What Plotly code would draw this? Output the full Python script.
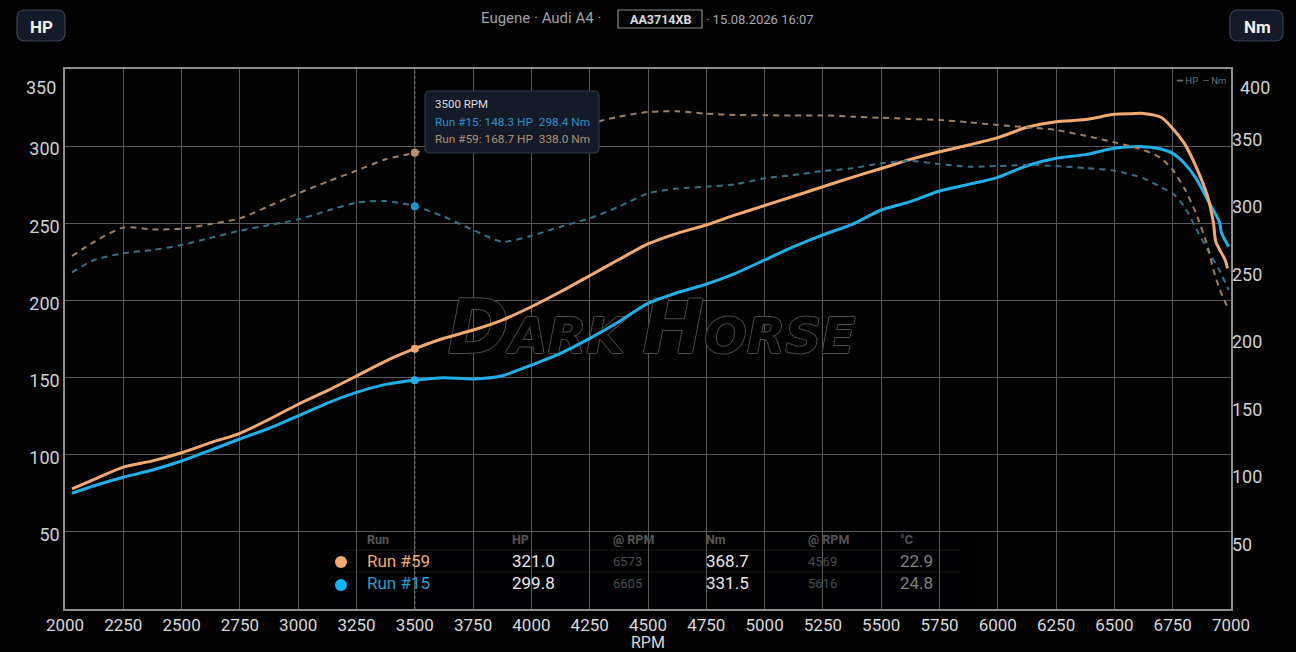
import plotly.graph_objects as go

# okunan degerler
RPM = [2030, 2125, 2250, 2375, 2500, 2625, 2750, 2875, 3000, 3125, 3250, 3375, 3500,
       3625, 3750, 3875, 4000, 4125, 4250, 4375, 4500, 4625, 4750, 4875, 5000, 5125,
       5250, 5375, 5500, 5625, 5750, 5875, 6000, 6125, 6250, 6375, 6500]

HP_59 = [77.8, 84, 92, 96, 101.3, 107.8, 113.9, 122.9, 132.7, 141.5, 151, 160.7, 168.7,
         175.5, 180.8, 187.3, 195.9, 205.6, 216, 226.5, 236.6, 243.5, 248.9, 255.4, 261.5, 267.5,
         273.7, 279.8, 285.5, 291.4, 296.4, 300.7, 305.5, 312.2, 315.8, 317.2, 320.6]
HP_15 = [75, 79.9, 85.4, 90.1, 95.9, 103, 110.2, 117.1, 125.1, 133.5, 140.4, 145.6, 148.3,
         149.9, 149.1, 151.2, 158.1, 165.7, 175.4, 186.2, 198.1, 205, 210.6, 217.6, 226.2, 234.8,
         242.5, 249.3, 258.6, 264, 270.9, 275.2, 279.8, 287.3, 292.1, 294.5, 298.6]
NM_59 = [261.5, 272, 282.5, 281.2, 281.7, 285.2, 289.4, 298.5, 307.9, 316.5, 324.7, 333.1, 338,
         344, 348, 351, 354, 357, 359.8, 364.7, 368.1, 368.7, 366.9, 366, 365.7, 365.6,
         365.6, 364.7, 363.9, 363, 362.2, 360.5, 358.5, 356.8, 354.8, 350.5, 345.7]
NM_15 = [249.4, 258.5, 263.5, 265.9, 269.6, 275, 280.2, 284.4, 288.6, 295, 301, 302.2, 298.4,
         290.6, 280.7, 272.1, 276.5, 283.2, 289.4, 298, 307.9, 311.4, 312.8, 314.6, 319, 321.5,
         324.4, 326.4, 330.1, 331.9, 329.6, 327.6, 328.1, 328.9, 328.1, 326.6, 324.7]

# egrilerin dustugu son bolum
TAIL_HP_59_RPM = [6573, 6625, 6700, 6750, 6800, 6850, 6900, 6925, 6935, 6975, 6985]
TAIL_HP_59 = [321, 321.2, 318.7, 311.5, 301.8, 286.7, 267.2, 250, 238, 226.2, 220.8]
TAIL_HP_15_RPM = [6605, 6700, 6750, 6800, 6850, 6900, 6950, 6960, 6990]
TAIL_HP_15 = [299.8, 298.1, 295.3, 288.9, 279.1, 265.1, 251, 243.5, 234.8]
TAIL_NM_59_RPM = [6625, 6700, 6750, 6800, 6850, 6900, 6925, 6950, 6985]
TAIL_NM_59 = [340, 333.9, 325.2, 311.6, 293.1, 268.4, 251.1, 237.6, 223.5]
TAIL_NM_15_RPM = [6625, 6700, 6750, 6800, 6850, 6900, 6950, 6990]
TAIL_NM_15 = [319, 312.4, 307.9, 298, 282, 265.9, 251.1, 236.3]

X_TICKS = [2000 + 250 * i for i in range(21)]
HP_TICKS = [50, 100, 150, 200, 250, 300]
NM_TICKS = [50, 100, 150, 200, 250, 300, 350]

CURSOR_RPM = 3500
CURSOR_HP = [168.7, 148.3]
CURSOR_NM = [338.0, 298.4]

TABLE_RUNS = ["Run #59", "Run #15"]
TABLE_HP = ["321.0", "299.8"]
TABLE_HP_RPM = ["6573", "6605"]
TABLE_NM = ["368.7", "331.5"]
TABLE_NM_RPM = ["4569", "5616"]
TABLE_TEMP = ["22.9", "24.8"]

ORANGE = "#f2aa70"
BLUE = "#22aee6"
ORANGE_DIM = "#9c8066"
BLUE_DIM = "#3a7085"
FONT = "Roboto"

# sayfa pikselleri -> paper koordinati
L, R, T, B = 65, 1231, 69, 609


def px(x):
    return (x - L) / (R - L)


def py(y):
    return (B - y) / (B - T)


def label(text, x, y, size, color, anchor="left", bold=False):
    return dict(
        text=f"<b>{text}</b>" if bold else text,
        x=px(x), y=py(y), xref="paper", yref="paper",
        xanchor=anchor, yanchor="middle", showarrow=False,
        font=dict(family=FONT, size=size, color=color),
    )


def round_box(x0, y0, x1, y1, r, fill, line):
    a0, a1, b0, b1 = px(x0), px(x1), py(y0), py(y1)
    rx, ry = r / (R - L), r / (B - T)
    path = (
        f"M {a0 + rx} {b0} L {a1 - rx} {b0} Q {a1} {b0} {a1} {b0 - ry} "
        f"L {a1} {b1 + ry} Q {a1} {b1} {a1 - rx} {b1} "
        f"L {a0 + rx} {b1} Q {a0} {b1} {a0} {b1 + ry} "
        f"L {a0} {b0 - ry} Q {a0} {b0} {a0 + rx} {b0} Z"
    )
    return dict(type="path", path=path, xref="paper", yref="paper",
                fillcolor=fill, line=dict(color=line, width=1.2))


def curve(x, y, name, color, width, axis="y", dash=None):
    return go.Scatter(
        x=x, y=y, name=name, yaxis=axis, mode="lines",
        line=dict(color=color, width=width, dash=dash, shape="spline", smoothing=0.7),
        showlegend=False,
    )


fig = go.Figure()

# filigran, egrilerin altinda kalsin diye ilk iz
fig.add_trace(go.Scatter(
    x=[4515], y=[174], mode="text", showlegend=False,
    text=["<b><i><span style='font-size:74px'>D</span>ARK <span style='font-size:74px'>H</span>ORSE</i></b>"],
    textposition="middle center",
    textfont=dict(
        family="DejaVu Sans", size=50, color="#020203",
        shadow="1px 0 #4a4a4a, -1px 0 #4a4a4a, 0 1px #4a4a4a, 0 -1px #4a4a4a",
    ),
))

fig.add_trace(curve(RPM + TAIL_NM_15_RPM, NM_15 + TAIL_NM_15, "Run #15 Nm", BLUE_DIM, 2, "y2", "6px,5px"))
fig.add_trace(curve(RPM + TAIL_NM_59_RPM, NM_59 + TAIL_NM_59, "Run #59 Nm", ORANGE_DIM, 2, "y2", "6px,5px"))
fig.add_trace(curve(RPM + TAIL_HP_15_RPM, HP_15 + TAIL_HP_15, "Run #15 HP", BLUE, 3))
fig.add_trace(curve(RPM + TAIL_HP_59_RPM, HP_59 + TAIL_HP_59, "Run #59 HP", ORANGE, 3))

fig.add_trace(go.Scatter(
    x=[CURSOR_RPM] * 2, y=CURSOR_HP, mode="markers", showlegend=False,
    marker=dict(size=8, color=[ORANGE, BLUE]),
))
fig.add_trace(go.Scatter(
    x=[CURSOR_RPM] * 2, y=CURSOR_NM, yaxis="y2", mode="markers", showlegend=False,
    marker=dict(size=8, color=["#b8946f", "#1f93c4"]),
))

shapes = [
    # tablo arka plani
    dict(type="rect", layer="below", xref="paper", yref="paper", x0=px(321), x1=px(974), y0=py(526), y1=py(608),
         fillcolor="rgba(2,2,3,0.65)", line=dict(width=0)),
    dict(type="line", layer="below", xref="paper", yref="paper", x0=px(345), x1=px(960), y0=py(550), y1=py(550),
         line=dict(color="#1c1c1c", width=1)),
    dict(type="line", layer="below", xref="paper", yref="paper", x0=px(345), x1=px(960), y0=py(572), y1=py(572),
         line=dict(color="#141414", width=1)),
    # 3500 RPM imleci
    dict(type="line", layer="below", xref="x", yref="paper", x0=CURSOR_RPM, x1=CURSOR_RPM, y0=0, y1=1,
         line=dict(color="#a0a0a0", width=1, dash="3px,2px")),
    dict(type="circle", xref="paper", yref="paper", x0=px(335), x1=px(347), y0=py(556), y1=py(568),
         fillcolor=ORANGE, line=dict(width=0)),
    dict(type="circle", xref="paper", yref="paper", x0=px(335), x1=px(347), y0=py(579), y1=py(591),
         fillcolor="#12b6f8", line=dict(width=0)),
    round_box(17, 10, 65, 41, 8, "#141a28", "#3c4454"),
    round_box(1230, 10, 1283, 41, 8, "#141a28", "#3c4454"),
    round_box(425, 91, 599, 153, 5, "#141a28", "#2f3746"),
    dict(type="rect", xref="paper", yref="paper", x0=px(618), x1=px(702), y0=py(10), y1=py(28),
         line=dict(color="#8a8a8a", width=1.2)),
]

annotations = [
    label("HP", 41, 27, 17, "#f2f2f2", "center", True),
    label("Nm", 1257, 27, 17, "#f2f2f2", "center", True),
    label("Eugene · Audi A4 ·", 479, 18, 15, "#a0a0a0"),
    label("AA3714XB", 660, 19, 12.5, "#dcdcdc", "center", True),
    label("· 15.08.2026 16:07", 704, 19, 13, "#a8a8a8"),
    label("350", 58, 87, 18, "#d0d0d0", "right"),
    label("400", 1238, 87, 18, "#d0d0d0"),
    label("━ HP  ╌ Nm", 1228, 80, 9.5, "#707070", "right"),
    label("3500 RPM", 433, 104, 11.5, "#d8d8d8"),
    label("Run #15: 148.3 HP  298.4 Nm", 433, 122, 11.8, "#2b8fc4"),
    label("Run #59: 168.7 HP  338.0 Nm", 433, 139, 11.8, "#b09070"),
    label("RPM", 648, 642, 16, "#d8d8d8", "center"),
]

# ozet tablo
for text, x in [("Run", 365), ("HP", 510), ("@ RPM", 611), ("Nm", 704), ("@ RPM", 806), ("°C", 898)]:
    annotations.append(label(text, x, 539, 12.5, "#555555", bold=True))

for i, row_y in enumerate([561, 583]):
    annotations.append(label(TABLE_RUNS[i], 365, row_y, 17, [ORANGE, "#2a9fd0"][i]))
    annotations.append(label(TABLE_HP[i], 510, row_y, 17, "#e8e8e8"))
    annotations.append(label(TABLE_HP_RPM[i], 611, row_y, 13, "#4c4c4c"))
    annotations.append(label(TABLE_NM[i], 704, row_y, 17, "#e8e8e8"))
    annotations.append(label(TABLE_NM_RPM[i], 806, row_y, 13, "#4c4c4c"))
    annotations.append(label(TABLE_TEMP[i], 898, row_y, 17, "#808080"))

fig.update_layout(
    width=1296, height=652,
    margin=dict(l=L, r=1296 - R, t=T, b=652 - B),
    paper_bgcolor="#020203", plot_bgcolor="#020203",
    font=dict(family=FONT, color="#d0d0d0"),
    shapes=shapes, annotations=annotations,
    xaxis=dict(
        range=[2000, 7000], tickvals=X_TICKS, tickfont=dict(size=17, color="#d8d8d8"),
        gridcolor="#585858", gridwidth=1, zeroline=False, automargin=False,
        showline=True, mirror=True, linecolor="#8c8c8c", linewidth=1.5,
    ),
    yaxis=dict(
        range=[0, 350], tickvals=HP_TICKS, tickfont=dict(size=18, color="#d0d0d0"),
        gridcolor="#585858", gridwidth=1, zeroline=False, ticklabelshift=3, automargin=False,
        showline=True, mirror=True, linecolor="#8c8c8c", linewidth=1.5,
    ),
    yaxis2=dict(
        range=[0, 400], tickvals=NM_TICKS, tickfont=dict(size=18, color="#d0d0d0"),
        overlaying="y", side="right", showgrid=False, zeroline=False, ticklabelshift=3, automargin=False,
    ),
)

fig.write_html(
    "out.html",
    config={"displayModeBar": False},
    post_script="document.body.style.margin='0';document.body.style.background='#020203';document.body.style.overflow='hidden';",
)
